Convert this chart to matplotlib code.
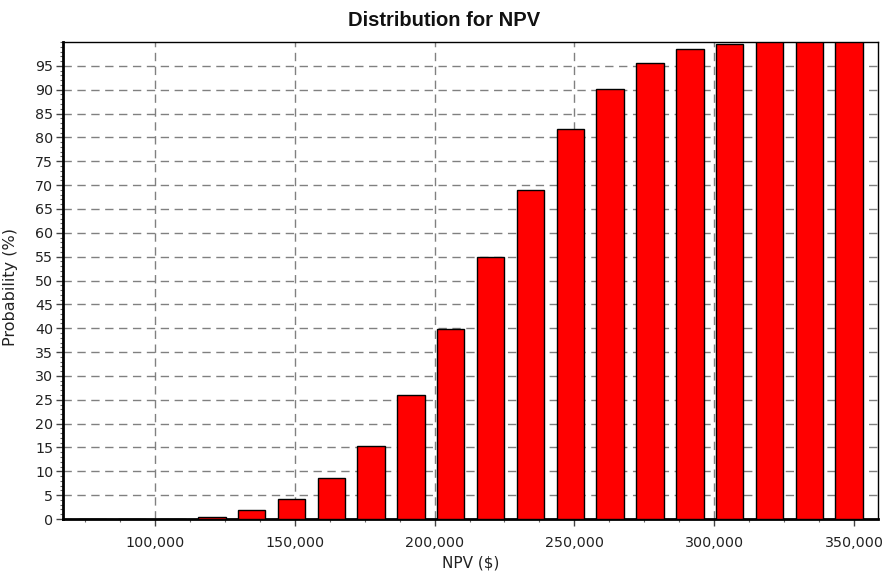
import matplotlib
matplotlib.use("Agg")
import matplotlib.pyplot as plt
from matplotlib.ticker import MultipleLocator, FuncFormatter

# Data
npv_centers = [77.6, 91.8, 106.1, 120.4, 134.6, 148.8, 163.1, 177.3, 191.6,
               205.8, 220.1, 234.3, 248.6, 262.8, 277.0, 291.3, 305.5,
               319.8, 334.0, 348.2]  # thousands of $
probability = [0, 0, 0, 0.4, 1.9, 4.2, 8.6, 15.3, 26.1,
               39.9, 54.9, 69.0, 81.7, 90.1, 95.5, 98.6, 99.6,
               100, 100, 100]
x_ticks = [100000, 150000, 200000, 250000, 300000, 350000]
y_ticks = list(range(0, 100, 5))

FONT = ["DejaVu Sans"]

fig = plt.figure(figsize=(8.89, 5.74), dpi=100)
ax = fig.add_axes([0.0709, 0.0958, 0.9876 - 0.0709, 0.9268 - 0.0958])

xs = [c * 1000 for c in npv_centers]
ax.bar(xs, probability, width=9800, color="#ff0000", edgecolor="black",
       linewidth=1.0, zorder=3)

ax.set_xlim(67100, 358600)
ax.set_ylim(0, 100)
ax.set_xticks(x_ticks)
ax.xaxis.set_major_formatter(FuncFormatter(lambda v, p: f"{int(v):,}"))
ax.xaxis.set_minor_locator(MultipleLocator(12500))
ax.set_yticks(y_ticks)
ax.yaxis.set_minor_locator(MultipleLocator(1))

ax.grid(True, which="major", color="#808080", linestyle=(0, (6, 4)),
        linewidth=1.0, zorder=0)

for lbl in ax.get_xticklabels() + ax.get_yticklabels():
    lbl.set_fontfamily(FONT)
    lbl.set_fontsize(10.3)
    lbl.set_color("#222222")

ax.tick_params(axis="both", which="major", direction="out", length=5,
               width=1, color="#444444", pad=2)
ax.tick_params(axis="both", which="minor", direction="out", length=2,
               width=0.8, color="#666666")
ax.tick_params(axis="x", which="major", pad=7)

for side in ["top", "right"]:
    ax.spines[side].set_linewidth(1.0)
    ax.spines[side].set_color("black")
for side in ["left", "bottom"]:
    ax.spines[side].set_linewidth(2.0)
    ax.spines[side].set_color("black")

ax.set_xlabel("NPV ($)", fontsize=11, family=FONT, color="#222222")
ax.set_ylabel("Probability (%)", fontsize=11.5, family=FONT, color="#222222")
ax.xaxis.label.set_va("center")
ax.yaxis.label.set_va("center")
ax.xaxis.set_label_coords(0.5, (519 - 563) / 477)
ax.yaxis.set_label_coords((10 - 63) / 815, 0.5 + (280 - 286) / 477)

fig.text(0.5, 1 - 21 / 574, "Distribution for NPV",
         ha="center", va="center", fontsize=14.5, fontweight="bold",
         family=["Liberation Sans", "DejaVu Sans"], color="#111111")

fig.savefig("out.png", dpi=100)
